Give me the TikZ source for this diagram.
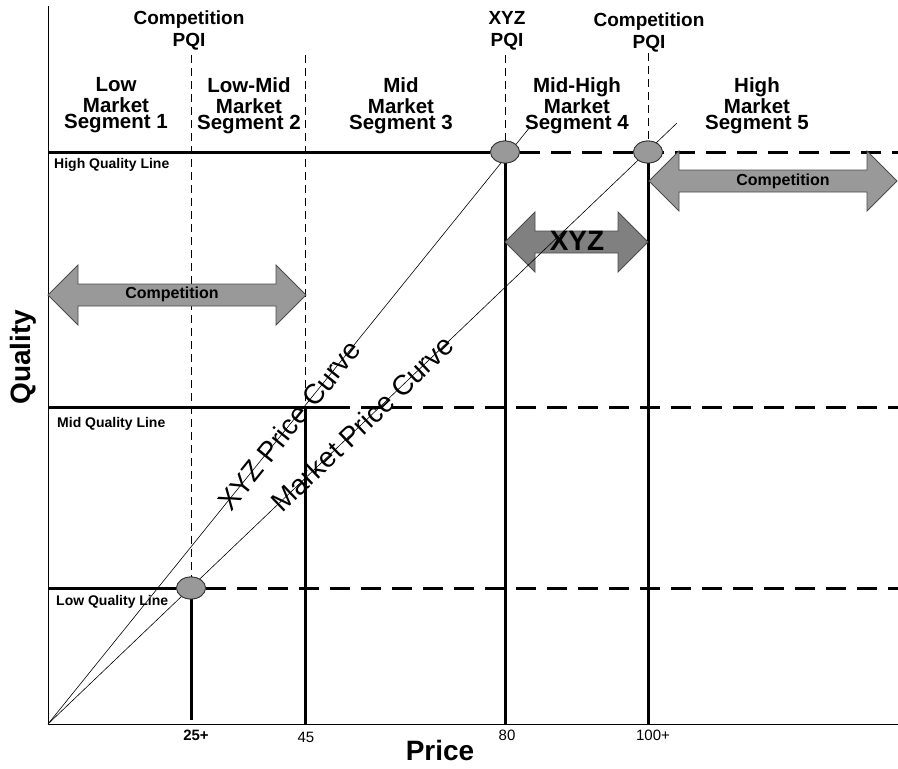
\documentclass[tikz,border=0pt]{standalone}
\usepackage{fontspec}
\setmainfont{Liberation Sans}
\usetikzlibrary{shapes.geometric}
\begin{document}
\begin{tikzpicture}[x=1pt,y=-1pt,
    qualityline/.style={line width=3pt},
    qualitydash/.style={line width=3pt, dash pattern=on 20pt off 11pt},
    pqiline/.style={line width=0.8pt, dash pattern=on 8pt off 5pt},
    pricecurve/.style={line width=0.6pt},
    pqi/.style={ellipse, draw=black!80, fill=black!40, line width=0.8pt, minimum width=29pt, minimum height=22pt, inner sep=0pt},
    twowaybox/.style={draw=black!70, line width=0.8pt},
    head/.style={font=\bfseries\fontsize{19}{22}\selectfont, align=center, inner sep=0pt, anchor=north},
    seghead/.style={head, font=\bfseries\fontsize{20.5}{21}\selectfont},
    linelabel/.style={font=\bfseries\fontsize{14}{16}\selectfont, anchor=base west, inner sep=0pt},
    ticklabel/.style={font=\fontsize{15}{17}\selectfont, anchor=base, inner sep=0pt}]
    \useasboundingbox (0,0) rectangle (898,769);
    \def\twoway#1#2#3{(#1,#3) -- (#1+30,#3-30) -- (#1+30,#3-11) -- (#2-30,#3-11) -- (#2-30,#3-30) -- (#2,#3) -- (#2-30,#3+30) -- (#2-30,#3+11) -- (#1+30,#3+11) -- (#1+30,#3+30) -- cycle}
    % axes
    \coordinate (o) at (48,724);
    \draw[line width=0.8pt] (48,6) -- (o) -- (898,724);
    % PQI points
    \node[pqi] (plow) at (191,588) {};
    \node[pqi] (pxyz) at (505,152) {};
    \node[pqi] (pcomp) at (648,152) {};
    \coordinate (pmid) at (305,407);
    % segment guides
    \draw[pqiline] (191,55) -- (plow.north);
    \draw[pqiline] (305,55) -- (pmid);
    \draw[pqiline] (505,55) -- (pxyz.north);
    \draw[pqiline] (648,53) -- (pcomp.north);
    % quality lines
    \draw[qualityline] (48,152) -- (pxyz.west);
    \draw[qualitydash] (pxyz.east) -- (898,152);
    \draw[qualityline] (48,407) -- (330,407);
    \draw[qualitydash] (330,407) -- (898,407);
    \draw[qualityline] (48,588) -- (plow.west);
    \draw[qualitydash] (plow.east) -- (898,588);
    \node[linelabel] (hql) at (54,168) {High Quality Line};
    \node[linelabel] (mql) at (57,427) {Mid Quality Line};
    \node[linelabel] (lql) at (56,605) {Low Quality Line};
    % price points
    \draw[qualityline] (plow.south) -- (191,720);
    \draw[qualityline] (pmid) -- (305,724);
    \draw[qualityline] (pxyz.south) -- (505,724);
    \draw[qualityline] (pcomp.south) -- (648,724);
    % arrows
    \draw[twowaybox, fill=black!40] \twoway{48}{306}{295};
    \draw[twowaybox, fill=black!40] \twoway{649}{897}{181};
    \draw[twowaybox, fill=black!50] \twoway{505}{648}{242};
    \node[font=\bfseries\fontsize{16}{18}\selectfont] (compl) at (172,294) {Competition};
    \node[font=\bfseries\fontsize{16}{18}\selectfont] (compr) at (783,181) {Competition};
    \node[font=\bfseries\fontsize{28}{30}\selectfont] (xyz) at (577,241) {XYZ};
    % price curves
    \draw[pricecurve] (o) -- node[sloped, pos=.5, font=\fontsize{28}{30}\selectfont] (xyzcurve) {XYZ Price Curve} (530,127);
    \draw[pricecurve] (o) -- node[sloped, pos=.5, font=\fontsize{28}{30}\selectfont] (mktcurve) {Market Price Curve} (677,123);
    \node[pqi] at (plow) {};
    \node[pqi] at (pxyz) {};
    \node[pqi] at (pcomp) {};
    % headings
    \node[head] (comp1) at (189,11) {Competition\\PQI};
    \node[head] (xyzpqi) at (507,11) {XYZ\\PQI};
    \node[head] (comp2) at (649,13) {Competition\\PQI};
    \node[seghead] (seg1) at (116,77) {Low\\Market\\[-5pt]Segment 1};
    \node[seghead] (seg2) at (249,77) {Low-Mid\\Market\\[-5pt]Segment 2};
    \node[seghead] (seg3) at (401,77) {Mid\\Market\\[-5pt]Segment 3};
    \node[seghead] (seg4) at (577,77) {Mid-High\\Market\\[-5pt]Segment 4};
    \node[seghead] (seg5) at (757,77) {High\\Market\\[-5pt]Segment 5};
    % axis labels
    \node[rotate=90, font=\bfseries\fontsize{28}{30}\selectfont] (quality) at (23,357) {Quality};
    \node[anchor=base, font=\bfseries\fontsize{28}{30}\selectfont] (price) at (440,760) {Price};
    \node[ticklabel, font=\bfseries\fontsize{15}{17}\selectfont] (t25) at (196,740) {25+};
    \node[ticklabel] (t45) at (306,742) {45};
    \node[ticklabel] (t80) at (507,740) {80};
    \node[ticklabel] (t100) at (653,740) {100+};
\end{tikzpicture}
\end{document}
